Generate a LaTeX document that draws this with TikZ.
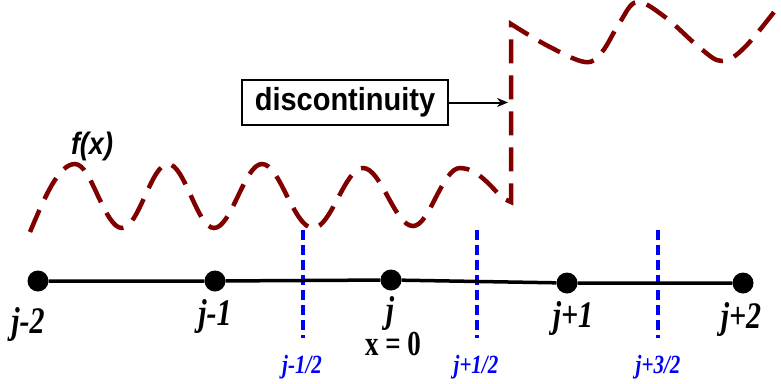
\documentclass[tikz,border=0pt]{standalone}
\usepackage{graphicx}
\usepackage{fontspec}
\setmainfont{Liberation Serif}
\setsansfont{Liberation Sans}
\usetikzlibrary{arrows.meta}
\definecolor{curvered}{RGB}{128,0,0}
\definecolor{gridblue}{RGB}{0,0,255}
\newcommand\tallstretch[2]{\scalebox{1}[#1]{#2}}
\begin{document}
\begin{tikzpicture}[x=1pt,y=-1pt,
  gridpt/.style={circle,fill=black,inner sep=0pt,minimum size=21pt},
  idx/.style={font=\fontsize{30}{30}\selectfont\bfseries\itshape, anchor=base, inner sep=0pt},
  half/.style={font=\fontsize{21}{21}\selectfont\bfseries\itshape, text=gridblue, anchor=base, inner sep=0pt},
  face/.style={draw=gridblue, line width=3.2pt, dash pattern=on 10pt off 5pt},
  fcurve/.style={draw=curvered, line width=4.5pt, dash pattern=on 24pt off 12pt},
]
\useasboundingbox (0,0) rectangle (781,383);

% function curve
\draw[fcurve] (30,232) sin (75,164) cos (98,196) sin (122,228) cos (145,196)
  sin (168,164) cos (191,196) sin (214,228) cos (238,196) sin (262,164)
  cos (287,196) sin (313,228) cos (338,198) sin (363,168) cos (388,197)
  sin (413,226) cos (436,197) sin (460,168) cos (502,198) -- (511,202) -- (511,24)
  -- plot[smooth, tension=0.6] coordinates {(511,24) (548,46) (585,62) (602,52) (620,22) (637,2) (665,17) (700,48) (722,61) (745,47) (781,3)};

% cell faces
\coordinate (fa1) at (303,230); \coordinate (fb1) at (303,338);
\coordinate (fa2) at (477,230); \coordinate (fb2) at (477,338);
\coordinate (fa3) at (658,230); \coordinate (fb3) at (658,338);
\draw[face] (fa1) -- (fb1);
\draw[face] (fa2) -- (fb2);
\draw[face] (fa3) -- (fb3);

% grid points
\node[gridpt] (n1) at (38,281) {};
\node[gridpt] (n2) at (215,281) {};
\node[gridpt] (n3) at (391,280) {};
\node[gridpt] (n4) at (567,283) {};
\node[gridpt] (n5) at (743,283) {};
\draw[line width=3.5pt] (n1) -- (n2) -- (n3) -- (n4) -- (n5);

% labels
\node[idx] (l1) at (28,333) {\tallstretch{1.25}{j-2}};
\node[idx] (l2) at (215,325) {\tallstretch{1.25}{j-1}};
\node[idx] (l3) at (390,322) {\tallstretch{1.25}{j}};
\node[idx] (l4) at (573,327) {\tallstretch{1.25}{j+1}};
\node[idx] (l5) at (741,328) {\tallstretch{1.25}{j+2}};
\node[font=\fontsize{27}{27}\selectfont\bfseries, anchor=base, inner sep=0pt] (x0) at (393,355) {\tallstretch{1.3}{x = 0}};

\node[half] (h1) at (302,373) {\tallstretch{1.25}{j-1/2}};
\node[half] (h2) at (476,373) {\tallstretch{1.25}{j+1/2}};
\node[half] (h3) at (658,373) {\tallstretch{1.25}{j+3/2}};

% f(x)
\node[font=\fontsize{27}{27}\selectfont\sffamily\bfseries\itshape, inner sep=0pt] (fx) at (92,146) {\tallstretch{1.15}{f(x)}};

% discontinuity
\node[draw, line width=1.5pt, font=\fontsize{29}{29}\selectfont\sffamily\bfseries, minimum width=206pt, minimum height=45pt, inner sep=0pt] (disc) at (345,102.5) {\tallstretch{1.1}{discontinuity}};
\coordinate (jump) at (508,102.5);
\draw[-{Stealth[length=11pt,width=9pt]}, line width=2pt] (disc) -- (jump);
\end{tikzpicture}
\end{document}
